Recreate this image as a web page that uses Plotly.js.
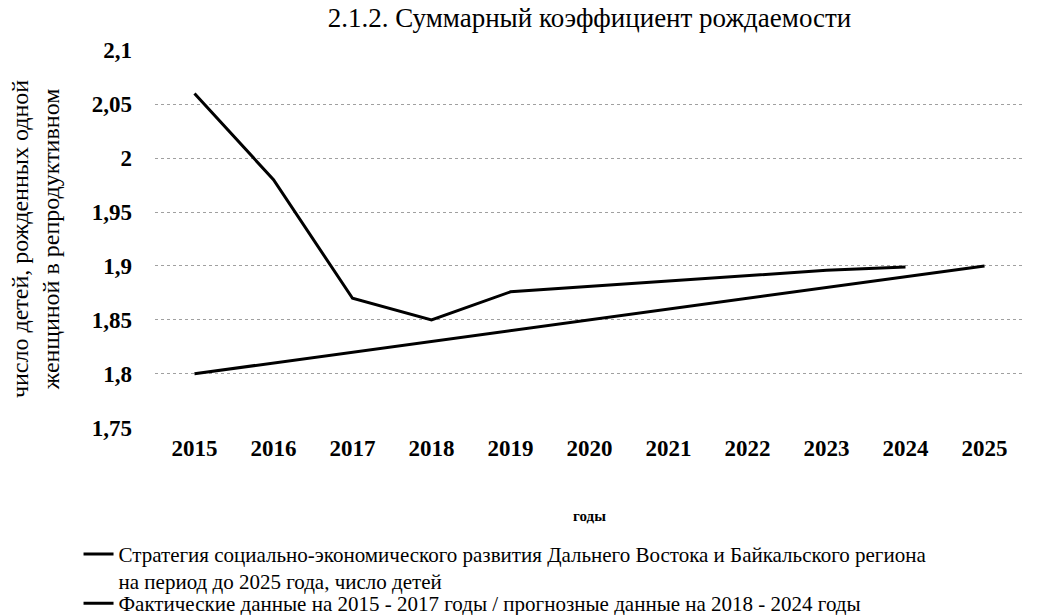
<!DOCTYPE html>
<html><head><meta charset="utf-8">
<script src="https://cdn.plot.ly/plotly-3.0.1.min.js"></script>
<style>html,body{margin:0;padding:0;background:#fff;}#chart{width:1048px;height:615px;}</style>
</head><body><div id="chart"></div>
<script>
const years = ["2015","2016","2017","2018","2019","2020","2021","2022","2023","2024","2025"];
const strategyValues = [1.80,1.81,1.82,1.83,1.84,1.85,1.86,1.87,1.88,1.89,1.90];
const actualYears = ["2015","2016","2017","2018","2019","2020","2021","2022","2023","2024"];
const actualValues = [2.06,1.98,1.87,1.85,1.876,1.881,1.886,1.891,1.896,1.899];
const yTickVals = [1.75,1.8,1.85,1.9,1.95,2,2.05,2.1];
const yTickText = ["1,75","1,8","1,85","1,9","1,95","2","2,05","2,1"];
const strategyName = "Стратегия социально-экономического развития Дальнего Востока и Байкальского региона<br>на период до 2025 года, число детей";
const actualName = "Фактические данные на 2015 - 2017 годы / прогнозные данные на 2018 - 2024 годы";

const F = "Liberation Serif";
const traces = [
  {x: years, y: strategyValues, name: strategyName, type: "scatter", mode: "lines",
   line: {color: "#000", width: 3}, legend: "legend"},
  {x: actualYears, y: actualValues, name: actualName, type: "scatter", mode: "lines",
   line: {color: "#000", width: 3}, legend: "legend2"}
];
const legendBase = {orientation: "v", x: -0.088, xanchor: "left", yanchor: "top",
           font: {family: F, size: 21, color: "#000"}, valign: "top", tracegroupgap: 0,
           bgcolor: "rgba(0,0,0,0)"};
const layout = {
  width: 1048, height: 615,
  margin: {l: 155, r: 24, t: 50, b: 187, autoexpand: false},
  paper_bgcolor: "#fff", plot_bgcolor: "#fff",
  font: {family: F, color: "#000"},
  title: {text: "2.1.2. Суммарный коэффициент рождаемости", font: {family: F, size: 27, color: "#000"},
          x: 0.5, xanchor: "center", xref: "paper", y: 0.972, yref: "container", yanchor: "middle",
          automargin: false},
  xaxis: {type: "category", range: [-0.5, 10.5], showgrid: false, zeroline: false, showline: false, ticks: "",
          automargin: false,
          tickfont: {family: F, size: 23, weight: "bold", color: "#000"}, ticklabelstandoff: 4,
          title: {text: "годы", font: {family: F, size: 15, weight: "bold", color: "#000"}, standoff: 50}},
  yaxis: {range: [1.7497, 2.1003], tickvals: yTickVals, ticktext: yTickText, zeroline: false, showline: false,
          automargin: false,
          showgrid: true, gridcolor: "#a0a0a0", griddash: "dot", gridwidth: 1, ticks: "",
          tickfont: {family: F, size: 23, weight: "bold", color: "#000"}, ticklabelstandoff: 22,
          title: {text: "число детей, рожденных одной<br>женщиной в репродуктивном", font: {family: F, size: 24, color: "#000"}, standoff: 25}},
  showlegend: true,
  legend: Object.assign({}, legendBase, {y: -0.28}),
  legend2: Object.assign({}, legendBase, {y: -0.41})
};
Plotly.newPlot("chart", traces, layout, {displayModeBar: false, staticPlot: true});
</script></body></html>
